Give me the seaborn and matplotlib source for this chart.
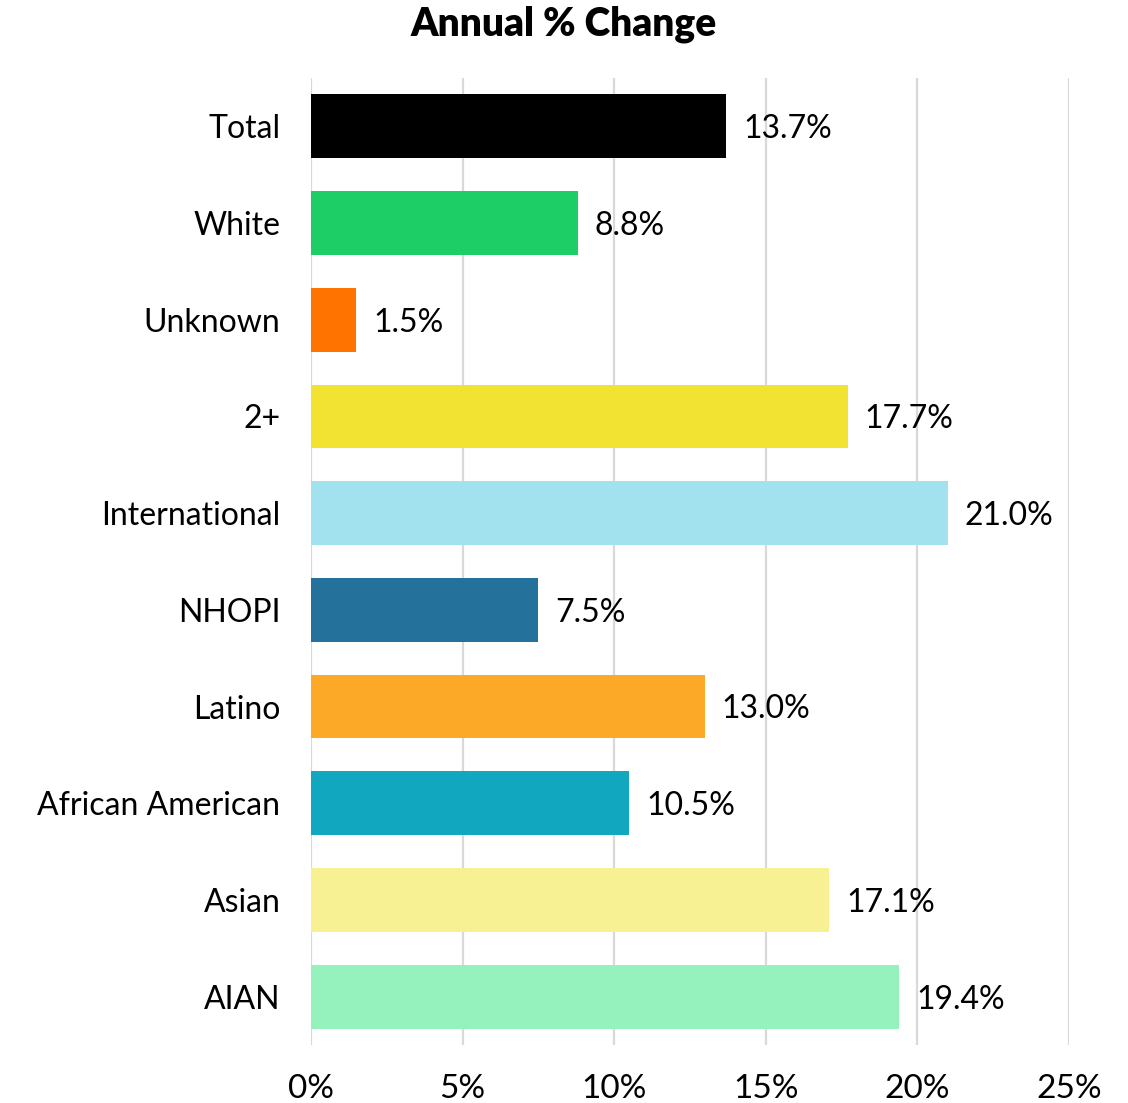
import matplotlib
matplotlib.use("Agg")
import matplotlib.pyplot as plt
import seaborn as sns
import pandas as pd

# ====================================
# 데이터
# ====================================
categories = ["Total", "White", "Unknown", "2+", "International",
              "NHOPI", "Latino", "African American", "Asian", "AIAN"]
values = [13.7, 8.8, 1.5, 17.7, 21.0, 7.5, 13.0, 10.5, 17.1, 19.4]
bar_colors = ["#000000", "#1DCE67", "#FF7300", "#F2E332", "#A2E2EF",
              "#24719B", "#FBA927", "#10A7BF", "#F7F193", "#96F2BC"]
xticks = [0, 5, 10, 15, 20, 25]

sns.set_theme(style="white")
plt.rcParams["font.family"] = ["Lato", "DejaVu Sans"]
plt.rcParams["text.color"] = "black"
plt.rcParams["xtick.color"] = "black"
plt.rcParams["ytick.color"] = "black"

df = pd.DataFrame({"group": categories, "change": values})

fig = plt.figure(figsize=(11.28, 11.03), dpi=100)
ax = fig.add_axes([0.2757, 0.0526, 0.672, 0.8767])

sns.barplot(
    data=df,
    x="change",
    y="group",
    hue="group",
    palette=bar_colors,
    legend=False,
    width=0.66,
    saturation=1,
    linewidth=0,
    ax=ax
)

ax.set_xlim(0, 25)
ax.set_ylim(9.5, -0.5)
ax.set_xticks(xticks)
ax.set_xticklabels([f"{t}%" for t in xticks], fontsize=24)
ax.tick_params(axis="y", labelsize=23, length=0, pad=22)
ax.tick_params(axis="x", length=0, pad=21)
ax.set_xlabel("")
ax.set_ylabel("")

ax.grid(axis="x", color="#D9D9D9", linewidth=1.6)
ax.set_axisbelow(True)
for s in ax.spines.values():
    s.set_visible(False)

for i, v in enumerate(values):
    ax.text(v + 0.55, i + 0.03, f"{v:.1f}%", va="center", ha="left", fontsize=23)

fig.suptitle("Annual % Change", fontsize=28, fontweight="heavy", y=0.995)

fig.savefig("out.png", dpi=100)
